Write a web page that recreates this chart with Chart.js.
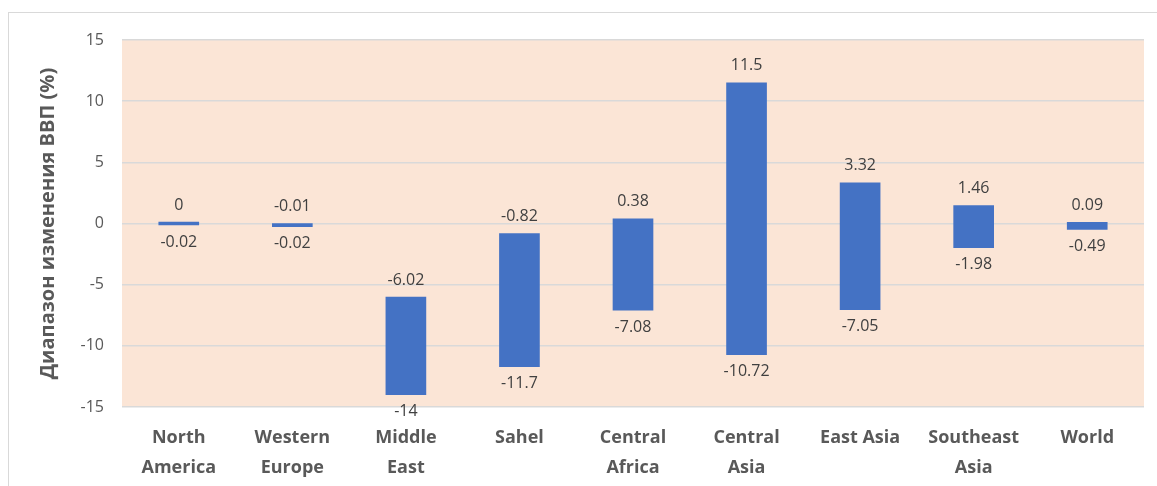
<!DOCTYPE html>
<html>
<head>
<meta charset="utf-8">
<script src="https://cdn.jsdelivr.net/npm/chart.js@4.4.1/dist/chart.umd.min.js"></script>
<style>
    html, body { margin: 0; padding: 0; background: #fff; overflow: hidden; }
    #wrap { position: relative; width: 1157px; height: 486px; }
    #frame { position: absolute; left: 8px; top: 12px; width: 1200px; height: 520px; border: 1.5px solid #D9D9D9; }
    canvas { position: absolute; left: 0; top: 0; }
</style>
</head>
<body>
<div id="wrap">
    <div id="frame"></div>
    <canvas id="rangeChart" width="1157" height="486"></canvas>
</div>
<script>
// Regions and GDP change range (low / high, %)
const regions = [
    ['North', 'America'], ['Western', 'Europe'], ['Middle', 'East'], ['Sahel'],
    ['Central', 'Africa'], ['Central', 'Asia'], ['East Asia'], ['Southeast', 'Asia'], ['World']
];
const lowValues = [-0.02, -0.02, -14, -11.7, -7.08, -10.72, -7.05, -1.98, -0.49];
const highValues = [0, -0.01, -6.02, -0.82, 0.38, 11.5, 3.32, 1.46, 0.09];
const yTicks = [-15, -10, -5, 0, 5, 10, 15];

const FONT = '"Open Sans", sans-serif';

// Peach background behind the plot area
const plotBackground = {
    id: 'plotBackground',
    beforeDraw(chart) {
        const { ctx, chartArea: a } = chart;
        ctx.save();
        ctx.fillStyle = '#FBE5D6';
        ctx.fillRect(a.left, a.top, a.right - a.left, a.bottom - a.top);
        ctx.restore();
    }
};

// Value labels above and below each floating bar
const rangeLabels = {
    id: 'rangeLabels',
    afterDatasetsDraw(chart) {
        const { ctx } = chart;
        const meta = chart.getDatasetMeta(0);
        ctx.save();
        ctx.font = '16px ' + FONT;
        ctx.fillStyle = '#404040';
        ctx.textAlign = 'center';
        ctx.textBaseline = 'middle';
        meta.data.forEach((bar, i) => {
            const top = Math.min(bar.y, bar.base);
            const bottom = Math.max(bar.y, bar.base);
            ctx.fillText(String(highValues[i]), bar.x, top - 17);
            ctx.fillText(String(lowValues[i]), bar.x, bottom + 17);
        });
        ctx.restore();
    }
};

new Chart(document.getElementById('rangeChart').getContext('2d'), {
    type: 'bar',
    data: {
        labels: regions,
        datasets: [{
            data: lowValues.map((lo, i) => [lo, highValues[i]]),
            backgroundColor: '#4472C4',
            barThickness: 40,
            minBarLength: 3
        }]
    },
    options: {
        responsive: false,
        animation: false,
        layout: { padding: { left: 0, right: 13, top: 40, bottom: 0 } },
        plugins: {
            legend: { display: false },
            tooltip: { enabled: false }
        },
        scales: {
            x: {
                grid: { display: false },
                border: { display: false },
                ticks: {
                    color: '#595959',
                    font: { family: FONT, size: 18, weight: 'bold', lineHeight: 1.65 },
                    padding: 8,
                    maxRotation: 0,
                    autoSkip: false
                },
                afterFit(scale) { scale.height = 486 - 407; }
            },
            y: {
                min: -15,
                max: 15,
                afterBuildTicks(scale) { scale.ticks = yTicks.map(v => ({ value: v })); },
                grid: { color: '#D9D9D9', lineWidth: 1.5, drawTicks: false },
                border: { display: false },
                ticks: {
                    color: '#595959',
                    font: { family: FONT, size: 16 },
                    padding: 18
                },
                title: {
                    display: true,
                    text: 'Диапазон изменения ВВП (%)',
                    color: '#595959',
                    font: { family: FONT, size: 20, weight: 'bold' },
                    padding: { top: 36, bottom: 0 }
                },
                afterFit(scale) { scale.width = 122; }
            }
        }
    },
    plugins: [plotBackground, rangeLabels]
});
</script>
</body>
</html>
